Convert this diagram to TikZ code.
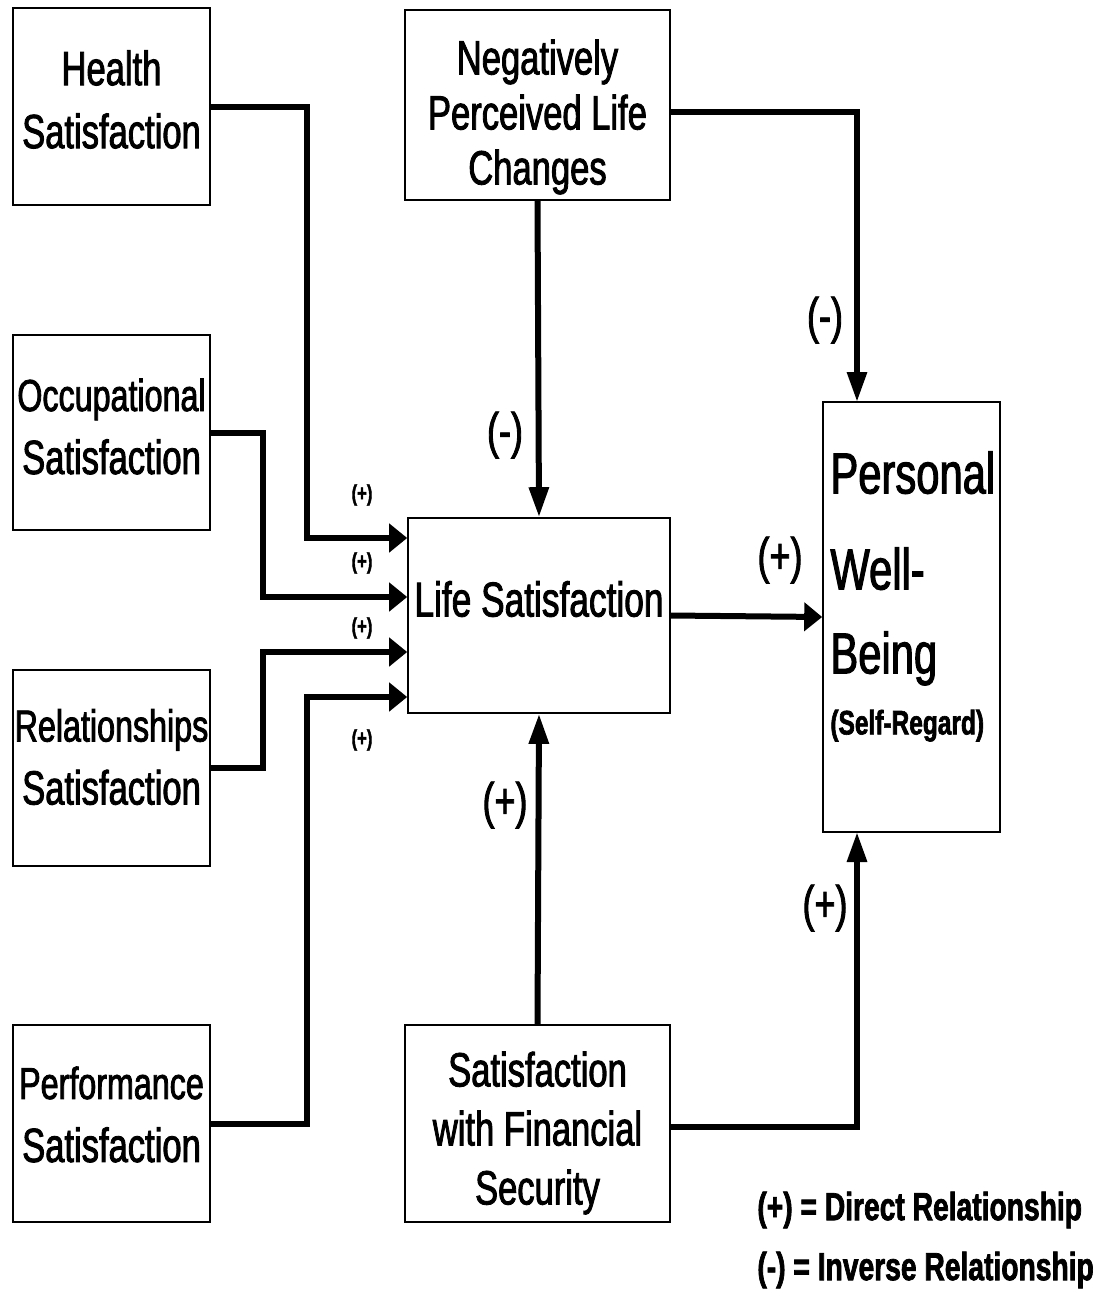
\documentclass[tikz,border=0pt]{standalone}
\usepackage{fontspec}
\setmainfont{Liberation Sans}[FakeStretch=0.72, FakeBold=1.8]
\usetikzlibrary{arrows.meta,calc}
\newcommand{\narrowword}[1]{{\fontsize{22.4}{31.5}\selectfont #1}}
\begin{document}
\begin{tikzpicture}[x=0.5pt,y=-0.5pt,
  box/.style={draw, line width=0.8pt, inner sep=0pt},
  boxtext/.style={inner sep=0pt, align=center, font=\fontsize{24}{31.5}\selectfont},
  link/.style={line width=3pt, line join=miter},
  htip/.style={-{Triangle[length=9pt,width=14pt]}},
  vtip/.style={-{Triangle[length=15pt,width=9.5pt]}},
  sign/.style={font=\fontsize{25}{25}\selectfont, inner sep=0pt},
  smallsign/.style={font=\fontsize{11.5}{11.5}\selectfont\bfseries, inner sep=0pt},
  legend/.style={font=\fontsize{19.6}{19.6}\selectfont\bfseries, inner sep=0pt, anchor=west}]

\useasboundingbox (0,0) rectangle (1110,1290);

% source boxes on the left
\node[box, minimum width=98.5pt, minimum height=98.5pt] (hs) at (111.5,106.5) {};
\node[box, minimum width=98.5pt, minimum height=97.5pt] (os) at (111.5,432.5) {};
\node[box, minimum width=98.5pt, minimum height=98pt] (rs) at (111.5,768) {};
\node[box, minimum width=98.5pt, minimum height=98.5pt] (ps) at (111.5,1123.5) {};
\node[boxtext] (hst) at (111.5,99.5) {Health\\Satisfaction};
\node[boxtext] (ost) at (111.5,426.5) {\narrowword{Occupational}\\Satisfaction};
\node[boxtext] (rst) at (111.5,757) {\narrowword{Relationships}\\Satisfaction};
\node[boxtext] (pst) at (111.5,1114.5) {\narrowword{Performance}\\Satisfaction};

% middle column
\node[box, minimum width=132.5pt, minimum height=95pt] (nc) at (537.5,105) {};
\node[box, minimum width=131pt, minimum height=97.5pt] (ls) at (539,615.5) {};
\node[box, minimum width=132.5pt, minimum height=98.5pt] (fs) at (537.5,1123.5) {};
\node[boxtext, font=\fontsize{24}{27.5}\selectfont] (nct) at (537.5,117) {Negatively\\Perceived Life\\Changes};
\node[boxtext, font=\fontsize{24.5}{31.5}\selectfont] (lst) at (539,599) {Life Satisfaction};
\node[boxtext, font=\fontsize{24}{29.5}\selectfont] (fst) at (537.5,1133) {Satisfaction\\with Financial\\Security};

% outcome box
\node[box, minimum width=88.5pt, minimum height=215pt] (pw) at (911.5,617) {};
\node[anchor=north west, inner sep=0pt, align=left,
  font=\fontsize{29}{42}\selectfont] (pwt) at (830,451)
  {Personal\\[6pt]Well-\\Being\\[-11.5pt]{\fontsize{17}{17}\selectfont\bfseries(Self-Regard)}};

% bend points of the elbow connectors
\coordinate (hk) at (307,538);
\coordinate (ok) at (263,597);
\coordinate (rk) at (263,652);
\coordinate (pk) at (307,697);
\coordinate (nk) at (857,402);
\coordinate (fk) at (857,832);

% domain satisfactions into life satisfaction
\draw[link, htip] (hs.east) -| (hk) -- (hk -| ls.west);
\draw[link, htip] (os.east) -| (ok) -- (ok -| ls.west);
\draw[link, htip] (rs.east) -| (rk) -- (rk -| ls.west);
\draw[link, htip] (ps.east) -| (pk) -- (pk -| ls.west);

% remaining paths
\draw[link, vtip] (nc.south) -- (ls.north);
\draw[link, vtip] (fs.north) -- (ls.south);
\draw[link, htip] (ls.east) -- (pw.west);
\draw[link, vtip] ([yshift=-3.5pt]nc.east) -| (nk);
\draw[link, vtip] ([yshift=-1.5pt]fs.east) -| (fk);

% relationship signs
\node[smallsign] (s1) at (362,495) {(+)};
\node[smallsign] (s2) at (362,563) {(+)};
\node[smallsign] (s3) at (362,628) {(+)};
\node[smallsign] (s4) at (362,740) {(+)};
\node[sign] (s5) at (505,435) {(-)};
\node[sign] (s6) at (505,805) {(+)};
\node[sign] (s7) at (780,560) {(+)};
\node[sign] (s8) at (825,320) {(-)};
\node[sign] (s9) at (825,908) {(+)};

% key
\node[legend] (k1) at (757,1210) {(+) = Direct Relationship};
\node[legend] (k2) at (757,1270) {(-) = Inverse Relationship};
\end{tikzpicture}
\end{document}
